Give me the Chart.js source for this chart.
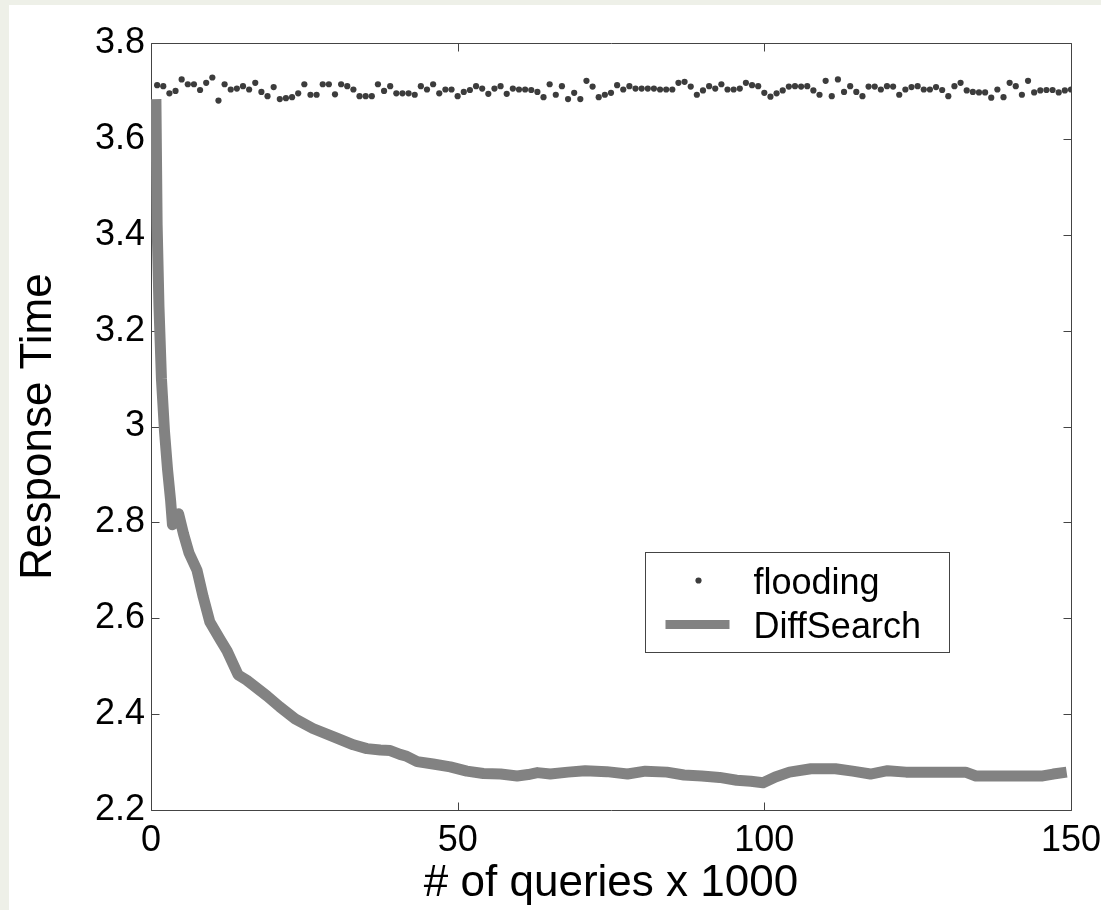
<!DOCTYPE html>
<html>
<head>
<meta charset="utf-8">
<script src="https://cdn.jsdelivr.net/npm/chart.js@4.4.0/dist/chart.umd.min.js"></script>
<style>
  html, body { margin: 0; padding: 0; background: #eef0e8; overflow: hidden; }
  #wrap { position: absolute; left: 9px; top: 5px; width: 1101px; height: 905px; background: #fff; }
</style>
</head>
<body>
<div id="wrap"><canvas id="chart" width="1101" height="905"></canvas></div>
<script>
const xTicks = [0, 50, 100, 150]
const yTicks = [2.2, 2.4, 2.6, 2.8, 3, 3.2, 3.4, 3.6, 3.8]

// flooding: one sample per 1000 queries (x = 1..150)
const floodingY = [
  3.712, 3.710, 3.695, 3.700, 3.724, 3.714, 3.714, 3.702, 3.717, 3.728,
  3.680, 3.714, 3.703, 3.705, 3.710, 3.703, 3.717, 3.698, 3.689, 3.708,
  3.683, 3.685, 3.687, 3.695, 3.714, 3.692, 3.692, 3.714, 3.714, 3.693,
  3.714, 3.710, 3.703, 3.689, 3.689, 3.689, 3.714, 3.700, 3.710, 3.695,
  3.695, 3.695, 3.692, 3.710, 3.703, 3.714, 3.695, 3.703, 3.703, 3.689,
  3.698, 3.702, 3.710, 3.705, 3.694, 3.705, 3.710, 3.694, 3.705, 3.703,
  3.703, 3.702, 3.698, 3.687, 3.714, 3.692, 3.710, 3.683, 3.696, 3.683,
  3.721, 3.709, 3.687, 3.692, 3.696, 3.712,
  3.703, 3.710, 3.705, 3.705, 3.705, 3.705, 3.703, 3.703, 3.703, 3.717,
  3.719, 3.709, 3.692, 3.701, 3.710, 3.705, 3.714, 3.703, 3.703, 3.705,
  3.717, 3.712, 3.710, 3.696, 3.688, 3.695, 3.701, 3.709, 3.710, 3.709,
  3.710, 3.701, 3.692, 3.721, 3.689, 3.724, 3.698, 3.710, 3.698, 3.689,
  3.709, 3.709, 3.703, 3.710, 3.709, 3.692, 3.703, 3.708, 3.710, 3.703,
  3.703, 3.708, 3.702, 3.689, 3.710, 3.717, 3.701, 3.698, 3.697, 3.697,
  3.686, 3.703, 3.687, 3.717, 3.710, 3.692, 3.721, 3.697, 3.701, 3.702,
  3.702, 3.697, 3.701, 3.703
]

const diffX = [0.8, 1.0, 1.3, 1.7, 2.2, 2.7, 3.2, 3.5, 4.0, 4.5,
  5.3, 6.2, 7.5, 8.5, 9.6, 11.3, 12.4, 14.2, 15.6, 18.9,
  21.0, 23.5, 26.4, 30.3, 33.0, 35.2, 37.4, 39.0, 40.6, 41.7,
  43.4, 46.0, 48.8, 51.5, 54.2, 57.0, 59.7, 61.5, 63.0, 65.1,
  68.0, 70.8, 74.3, 77.7, 80.6, 84.1, 86.9, 89.8, 92.7, 95.5,
  97.8, 99.8, 101.8, 104.1, 107.6, 111.6, 114.4, 117.3, 120.1, 123.1,
  128.2, 132.8, 134.5, 139.7, 145.4, 147.1, 149.3]
const diffY = [3.683, 3.42, 3.25, 3.10, 2.99, 2.91, 2.845, 2.795, 2.80, 2.818,
  2.776, 2.736, 2.70, 2.645, 2.592, 2.555, 2.532, 2.482, 2.471, 2.438,
  2.415, 2.390, 2.370, 2.350, 2.336, 2.328, 2.325, 2.324, 2.316, 2.312,
  2.301, 2.296, 2.290, 2.281, 2.276, 2.275, 2.271, 2.274, 2.278, 2.275,
  2.279, 2.282, 2.280, 2.275, 2.281, 2.279, 2.273, 2.271, 2.268, 2.262,
  2.260, 2.257, 2.269, 2.279, 2.286, 2.286, 2.281, 2.275, 2.282, 2.279,
  2.279, 2.279, 2.271, 2.271, 2.271, 2.275, 2.279]

const FONT = "'Liberation Sans', Arial, sans-serif"
const FRAME = '#444'

// MATLAB-like box with ticks pointing inward
const axesBox = {
  id: 'axesBox',
  beforeDatasetsDraw(chart) {
    const {ctx, chartArea: a, scales: {x, y}} = chart
    const L = Math.round(a.left) + 0.5, R = Math.round(a.right) + 0.5
    const T = Math.round(a.top) + 0.5, B = Math.round(a.bottom) + 0.5
    const tl = 8
    ctx.save()
    ctx.strokeStyle = FRAME
    ctx.lineWidth = 1
    ctx.beginPath()
    ctx.rect(L, T, R - L, B - T)
    for (let t of x.ticks) {
      let px = Math.round(x.getPixelForValue(t.value)) + 0.5
      ctx.moveTo(px, B); ctx.lineTo(px, B - tl)
      ctx.moveTo(px, T); ctx.lineTo(px, T + tl)
    }
    for (let t of y.ticks) {
      let py = Math.round(y.getPixelForValue(t.value)) + 0.5
      ctx.moveTo(L, py); ctx.lineTo(L + tl, py)
      ctx.moveTo(R, py); ctx.lineTo(R - tl, py)
    }
    ctx.stroke()
    ctx.restore()
  }
}

// legend drawn inside the plot area
const boxLegend = {
  id: 'boxLegend',
  afterDatasetsDraw(chart) {
    const {ctx, chartArea: a} = chart
    const w = a.right - a.left, h = a.bottom - a.top
    const bx = Math.round(a.left + 0.5365 * w) + 0.5
    const by = Math.round(a.top + 0.6636 * h) + 0.5
    const bw = 304, bh = 100
    const ds = chart.data.datasets
    ctx.save()
    ctx.fillStyle = '#fff'
    ctx.strokeStyle = FRAME
    ctx.lineWidth = 1
    ctx.fillRect(bx, by, bw, bh)
    ctx.strokeRect(bx, by, bw, bh)
    ctx.font = "36px " + FONT
    ctx.textBaseline = 'alphabetic'
    ctx.textAlign = 'left'
    let rows = [28, 72]
    ds.forEach((d, i) => {
      let cy = by + rows[i]
      if (d.showLine) {
        ctx.strokeStyle = d.borderColor
        ctx.lineWidth = 9
        ctx.lineCap = 'butt'
        ctx.beginPath()
        ctx.moveTo(bx + 20, cy)
        ctx.lineTo(bx + 84, cy)
        ctx.stroke()
      } else {
        ctx.fillStyle = d.backgroundColor
        ctx.beginPath()
        ctx.arc(bx + 53, cy, d.pointRadius, 0, Math.PI * 2)
        ctx.fill()
      }
      ctx.fillStyle = '#000'
      ctx.fillText(d.label, bx + 108, cy + 13)
    })
    ctx.restore()
  }
}

let ctx = document.getElementById('chart').getContext('2d')
let chart = new Chart(ctx, {
  type: 'scatter',
  data: {
    datasets: [{
      label: 'flooding',
      data: floodingY.map((v, i) => ({x: i + 1, y: v})),
      showLine: false,
      pointRadius: 3.1,
      pointBorderWidth: 0,
      backgroundColor: '#3c3c3c',
      borderColor: '#3c3c3c'
    }, {
      label: 'DiffSearch',
      data: diffX.map((v, i) => ({x: v, y: diffY[i]})),
      showLine: true,
      pointRadius: 0,
      borderWidth: 11,
      borderColor: '#828282',
      backgroundColor: '#828282',
      borderCapStyle: 'butt',
      borderJoinStyle: 'round',
      tension: 0
    }]
  },
  options: {
    responsive: false,
    animation: false,
    events: [],
    layout: { padding: { top: 38, right: 39, left: 0, bottom: 0 } },
    plugins: { legend: { display: false }, tooltip: { enabled: false } },
    scales: {
      x: {
        type: 'linear',
        min: 0,
        max: 150,
        afterBuildTicks: s => { s.ticks = xTicks.map(v => ({value: v})) },
        afterFit: s => { s.height = 100 },
        grid: { display: false, drawTicks: false },
        border: { display: false },
        ticks: {
          color: '#000',
          font: { family: FONT, size: 36 },
          padding: 9,
          maxRotation: 0,
          autoSkip: false,
          callback: v => String(v)
        },
        title: {
          display: true,
          text: '# of queries x 1000',
          color: '#000',
          font: { family: FONT, size: 44 },
          padding: 0
        }
      },
      y: {
        min: 2.2,
        max: 3.8,
        afterBuildTicks: s => { s.ticks = yTicks.map(v => ({value: v})) },
        afterFit: s => { s.width = 142 },
        grid: { display: false, drawTicks: false },
        border: { display: false },
        ticks: {
          color: '#000',
          font: { family: FONT, size: 36 },
          padding: 6,
          autoSkip: false,
          callback: v => String(v)
        },
        title: {
          display: true,
          text: 'Response Time',
          color: '#000',
          font: { family: FONT, size: 44 },
          padding: { top: 3, bottom: 0 }
        }
      }
    }
  },
  plugins: [axesBox, boxLegend]
})
</script>
</body>
</html>
